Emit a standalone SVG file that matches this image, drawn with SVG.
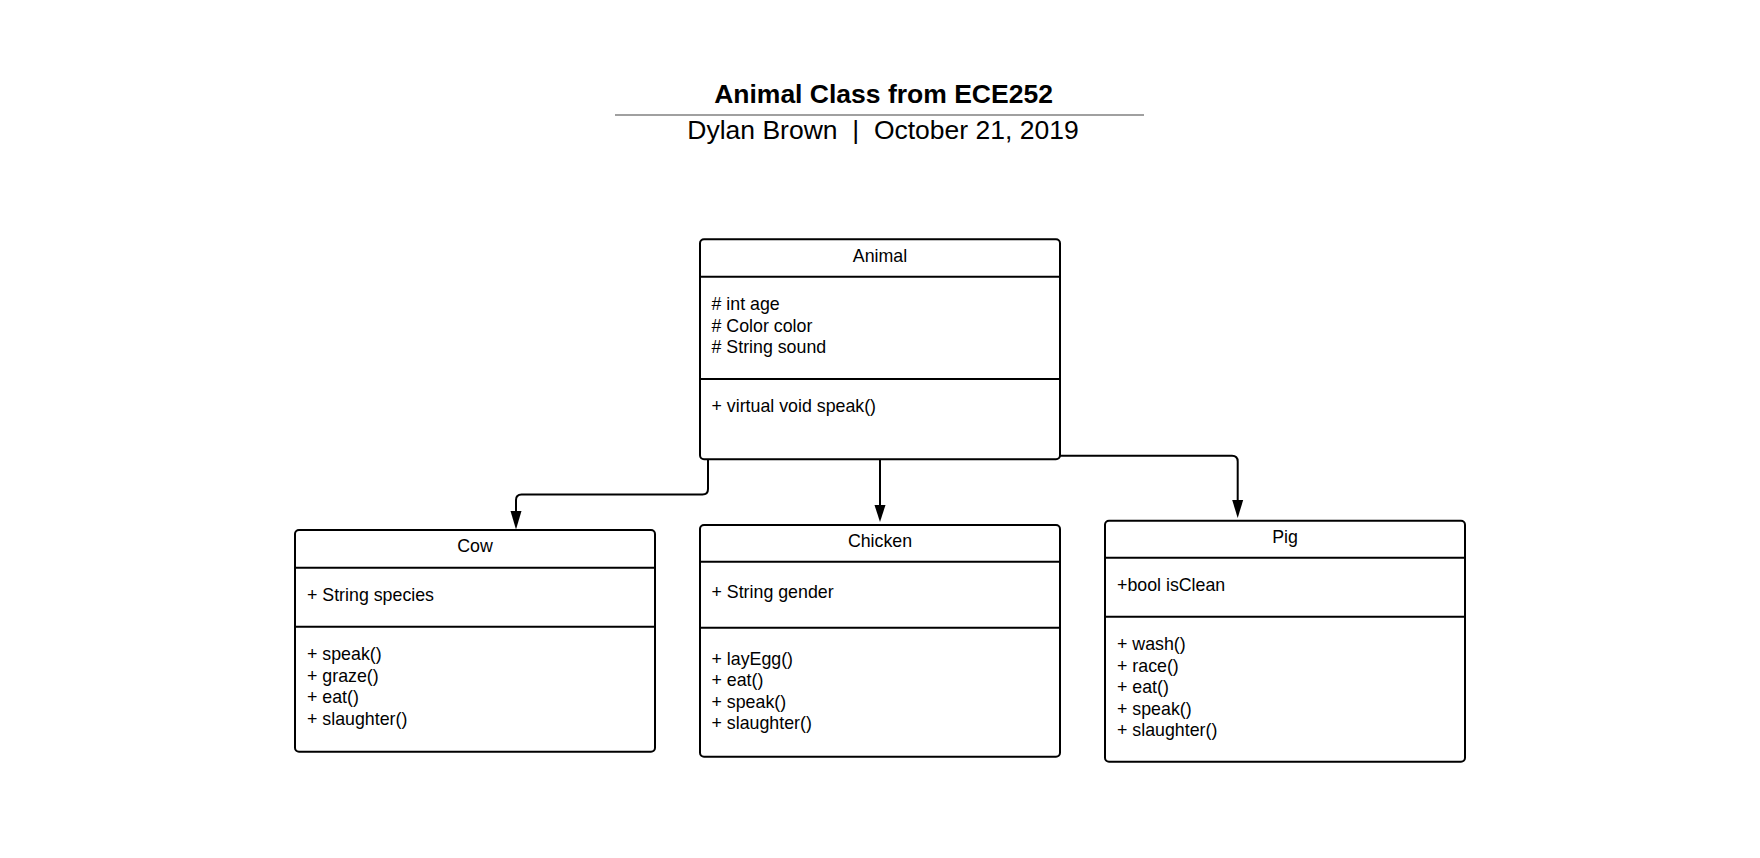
<svg xmlns="http://www.w3.org/2000/svg" width="1760" height="858" viewBox="0 0 1760 858">
<defs>
<style>
text{font-family:"Liberation Sans",Arial,sans-serif;fill:#000}
.t{font-size:26.5px;font-weight:bold}
.s{font-size:26.5px;white-space:pre}
.n{font-size:17.8px;text-anchor:middle}
.m{font-size:17.8px}
.box{fill:#fff;stroke:#000;stroke-width:2}
.sep{stroke:#000;stroke-width:2}
.c{fill:none;stroke:#000;stroke-width:2}
</style>
<marker id="ah" viewBox="0 0 12 18" refX="6" refY="18" markerWidth="12" markerHeight="18" markerUnits="userSpaceOnUse" orient="auto-start-reverse">
<path d="M0,0 L12,0 L6,18 Z" fill="#000"/>
</marker>
</defs>
<rect width="1760" height="858" fill="#fff"/>
<g id="title">
<text class="t" x="883.5" y="103.3" text-anchor="middle">Animal Class from ECE252</text>
<line x1="615" y1="115" x2="1144" y2="115" stroke="#a0a0a0" stroke-width="2"/>
<text class="s" x="883" y="138.5" text-anchor="middle" xml:space="preserve">Dylan Brown  |  October 21, 2019</text>
</g>
<g id="connectors">
<path class="c" d="M708,460 V489 Q708,494.5 702.5,494.5 H521.5 Q516,494.5 516,500 V511"/>
<path d="M510.5,511 L521.5,511 L516,529.5 Z" fill="#000"/>
<path class="c" d="M880,460 V505"/>
<path d="M874.5,505 L885.5,505 L880,522 Z" fill="#000"/>
<path class="c" d="M1060,455.7 H1232 Q1237.7,455.7 1237.7,461.4 V500"/>
<path d="M1232.2,500 L1243.2,500 L1237.7,518 Z" fill="#000"/>
</g>
<g id="animal">
<rect class="box" x="700" y="239.3" width="360" height="220" rx="4"/>
<line class="sep" x1="700" y1="276.7" x2="1060" y2="276.7"/>
<line class="sep" x1="700" y1="379" x2="1060" y2="379"/>
<text class="n" x="880" y="261.7">Animal</text>
<text class="m" x="711.5" y="310"># int age</text>
<text class="m" x="711.5" y="331.5"># Color color</text>
<text class="m" x="711.5" y="353"># String sound</text>
<text class="m" x="711.5" y="411.7">+ virtual void speak()</text>
</g>
<g id="cow">
<rect class="box" x="295" y="530" width="360" height="221.7" rx="4"/>
<line class="sep" x1="295" y1="567.7" x2="655" y2="567.7"/>
<line class="sep" x1="295" y1="626.7" x2="655" y2="626.7"/>
<text class="n" x="475" y="552">Cow</text>
<text class="m" x="307" y="601">+ String species</text>
<text class="m" x="307" y="660">+ speak()</text>
<text class="m" x="307" y="681.5">+ graze()</text>
<text class="m" x="307" y="703">+ eat()</text>
<text class="m" x="307" y="724.5">+ slaughter()</text>
</g>
<g id="chicken">
<rect class="box" x="700" y="525" width="360" height="231.7" rx="4"/>
<line class="sep" x1="700" y1="561.7" x2="1060" y2="561.7"/>
<line class="sep" x1="700" y1="627.7" x2="1060" y2="627.7"/>
<text class="n" x="880" y="546.7">Chicken</text>
<text class="m" x="711.5" y="598.3">+ String gender</text>
<text class="m" x="711.5" y="664.5">+ layEgg()</text>
<text class="m" x="711.5" y="686">+ eat()</text>
<text class="m" x="711.5" y="707.5">+ speak()</text>
<text class="m" x="711.5" y="729">+ slaughter()</text>
</g>
<g id="pig">
<rect class="box" x="1105" y="520.7" width="360" height="241" rx="4"/>
<line class="sep" x1="1105" y1="557.7" x2="1465" y2="557.7"/>
<line class="sep" x1="1105" y1="616.7" x2="1465" y2="616.7"/>
<text class="n" x="1285" y="543">Pig</text>
<text class="m" x="1117" y="590.7">+bool isClean</text>
<text class="m" x="1117" y="650">+ wash()</text>
<text class="m" x="1117" y="671.5">+ race()</text>
<text class="m" x="1117" y="693">+ eat()</text>
<text class="m" x="1117" y="714.5">+ speak()</text>
<text class="m" x="1117" y="736">+ slaughter()</text>
</g>
</svg>
